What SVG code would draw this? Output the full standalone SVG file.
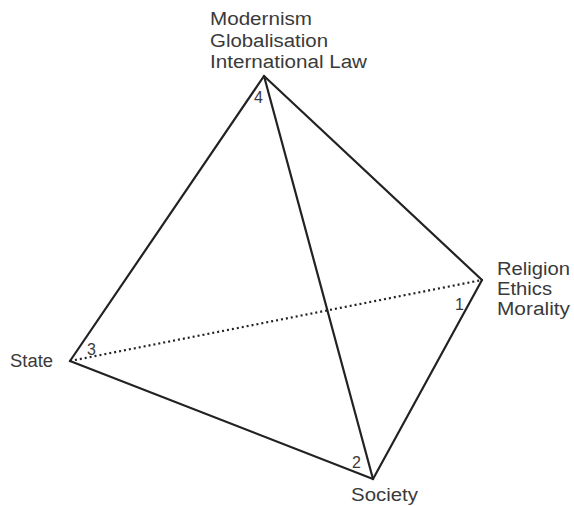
<svg xmlns="http://www.w3.org/2000/svg" width="574" height="506" viewBox="0 0 574 506">
<style>
.e{stroke:#222;stroke-width:2.2;fill:none;stroke-linecap:round}
.d{stroke:#222;stroke-width:2.2;fill:none;stroke-dasharray:2 3}
text{font-family:"Liberation Sans",Arial,sans-serif;font-size:18px;fill:#3a3a3a}
.n{font-size:16px}
</style>
<rect width="574" height="506" fill="#fff"/>
<g id="connectors">
<line class="d" x1="70" y1="361" x2="482" y2="280"/>
<line class="e" x1="264" y1="76" x2="70" y2="361"/>
<line class="e" x1="264" y1="76" x2="482" y2="280"/>
<line class="e" x1="264" y1="76" x2="373" y2="479"/>
<line class="e" x1="70" y1="361" x2="373" y2="479"/>
<line class="e" x1="482" y1="280" x2="373" y2="479"/>
</g>
<g id="n4"><text x="210" y="25" textLength="102" lengthAdjust="spacingAndGlyphs">Modernism</text><text x="210" y="47" textLength="118" lengthAdjust="spacingAndGlyphs">Globalisation</text><text x="210" y="68" textLength="157" lengthAdjust="spacingAndGlyphs">International Law</text><text class="n" x="254" y="103">4</text></g>
<g id="n1"><text x="497" y="275" textLength="73" lengthAdjust="spacingAndGlyphs">Religion</text><text x="497" y="295" textLength="55" lengthAdjust="spacingAndGlyphs">Ethics</text><text x="497" y="315" textLength="73" lengthAdjust="spacingAndGlyphs">Morality</text><text class="n" x="455" y="310">1</text></g>
<g id="n3"><text x="10" y="367" textLength="43" lengthAdjust="spacingAndGlyphs">State</text><text class="n" x="87" y="355">3</text></g>
<g id="n2"><text x="351" y="501" textLength="67" lengthAdjust="spacingAndGlyphs">Society</text><text class="n" x="352" y="468">2</text></g>
</svg>
